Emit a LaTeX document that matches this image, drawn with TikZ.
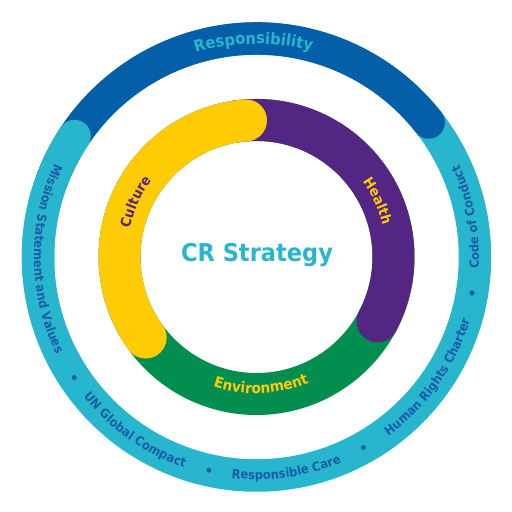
\documentclass[tikz,border=0pt]{standalone}
\usepackage{fontspec}
\newfontfamily\ffb{DejaVu Sans}[FakeStretch=0.92]
\usetikzlibrary{decorations.text,calc}
\definecolor{cyanc}{RGB}{40,182,206}
\definecolor{bluec}{RGB}{4,94,168}
\definecolor{yellowc}{RGB}{255,203,5}
\definecolor{purplec}{RGB}{82,38,130}
\definecolor{greenc}{RGB}{2,142,79}
\definecolor{textblue}{RGB}{26,92,168}
\newcommand\otxt{\ffb\bfseries\fontsize{12.5}{12.5}\selectfont\color{textblue}}
\newcommand\itxt[2]{\ffb\bfseries\fontsize{#2}{#2}\selectfont\color{#1}}
\tikzset{
  ringtext/.style={decorate, decoration={text along path, text align=center, text={#1}}},
  outerband/.style={line width=32.5pt},
  innerband/.style={line width=42pt},
  sepdot/.style={fill=textblue},
}
\begin{document}
\begin{tikzpicture}[x=1pt,y=1pt]
\useasboundingbox (0,0) rectangle (512,512);
\coordinate (c) at (256.5,255);
% outer ring
\draw[cyanc, outerband] (c) circle (218.5);
\draw[bluec, outerband] ($(c)+(160:218.5)$) arc (160:38:218.5);
\fill[bluec] ($(c)+(38:218.5)$) circle (16.25);
\draw[cyanc, outerband] ($(c)+(185:218.5)$) arc (185:146.4:218.5);
\fill[cyanc] ($(c)+(146.4:218.5)$) circle (16.25);
% inner ring
\draw[greenc, innerband] (c) circle (137);
\draw[purplec, innerband] ($(c)+(100:137)$) arc (100:-28:137);
\fill[purplec] ($(c)+(-28:137)$) circle (21);
\draw[yellowc, innerband] ($(c)+(94.4:137)$) arc (94.4:216:137);
\fill[yellowc] ($(c)+(94.4:137)$) circle (21);
\fill[yellowc] ($(c)+(216:137)$) circle (21);
% texts on outer ring
\path[ringtext={|\ffb\bfseries\fontsize{16}{16}\selectfont\color{cyanc}|Responsibility}] ($(c)+(126:213)$) arc (126:55.6:213);
\path[ringtext={|\otxt|Mission Statement and Values}] ($(c)+(140:222.5)$) arc (140:221:222.5);
\path[ringtext={|\otxt|UN Global Compact}] ($(c)+(205:222.5)$) arc (205:265:222.5);
\path[ringtext={|\otxt|Responsible Care}] ($(c)+(248:222.5)$) arc (248:308:222.5);
\path[ringtext={|\otxt|Human Rights Charter}] ($(c)+(295:222.5)$) arc (295:355:222.5);
\path[ringtext={|\otxt|Code of Conduct}] ($(c)+(340.7:222.5)$) arc (340.7:400.7:222.5);
\fill[sepdot] ($(c)+(213.5:218.5)$) circle (2.5);
\fill[sepdot] ($(c)+(257.4:218.5)$) circle (2.5);
\fill[sepdot] ($(c)+(299.3:218.5)$) circle (2.5);
\fill[sepdot] ($(c)+(350.5:218.5)$) circle (2.5);
% texts on inner ring
\path[ringtext={|\itxt{purplec}{14}|Culture}] ($(c)+(185.5:130)$) arc (185.5:125.5:130);
\path[ringtext={|\itxt{yellowc}{14}|Health}] ($(c)+(54.7:130)$) arc (54.7:-5.3:130);
\path[ringtext={|\itxt{yellowc}{14.8}|Environment}] ($(c)+(242:136.5)$) arc (242:302:136.5);
% centre
\node[anchor=base, font=\ffb\bfseries\fontsize{24.5}{24.5}\selectfont, text=cyanc, inner sep=0pt] (title) at (257,250.3) {CR Strategy};
\end{tikzpicture}
\end{document}
